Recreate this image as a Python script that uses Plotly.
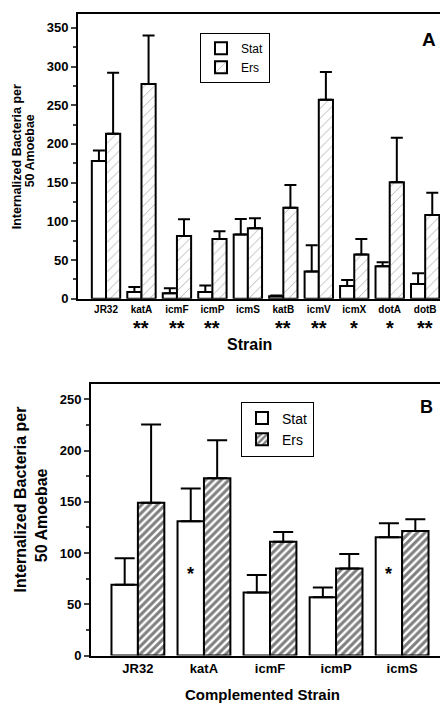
import plotly.graph_objects as go

# ---- Panel A data ----
strains_a = ["JR32", "katA", "icmF", "icmP", "icmS", "katB", "icmV", "icmX", "dotA", "dotB"]
stat_a = [178, 8.5, 7, 8.5, 83, 3, 35, 16.5, 42, 19]
stat_a_err = [13.5, 6.5, 6.5, 8.5, 20, 1, 34, 7.5, 5, 14]
ers_a = [213, 277.5, 81, 77, 91, 117.5, 257, 57, 150.5, 108]
ers_a_err = [79, 62.5, 21.5, 10, 13, 29.5, 36, 20, 57.5, 29]
sig_a = ["", "**", "**", "**", "", "**", "**", "*", "*", "**"]
yticks_a = [0, 50, 100, 150, 200, 250, 300, 350]

# ---- Panel B data ----
strains_b = ["JR32", "katA", "icmF", "icmP", "icmS"]
stat_b = [69, 131, 61.5, 57, 115.5]
stat_b_err = [26, 32, 17, 9.5, 13.5]
ers_b = [149, 173, 111, 85, 121.5]
ers_b_err = [76.5, 37, 9.5, 14, 11.5]
sig_b = ["", "*", "", "", "*"]
sig_b_level = 80
yticks_b = [0, 50, 100, 150, 200, 250]

FONT = "Liberation Sans, Arial, sans-serif"
W, H = 448, 709

fig = go.Figure()

fig.add_trace(go.Bar(
    x=strains_a, y=stat_a, name="Stat", xaxis="x", yaxis="y",
    marker=dict(color="white", line=dict(color="black", width=2)),
    error_y=dict(type="data", symmetric=False, array=stat_a_err, arrayminus=[0]*len(stat_a),
                 color="black", thickness=2, width=6),
    legend="legend",
))
fig.add_trace(go.Bar(
    x=strains_a, y=ers_a, name="Ers", xaxis="x", yaxis="y",
    marker=dict(color="white", line=dict(color="black", width=2),
                pattern=dict(shape="/", fgcolor="#555555", bgcolor="white", size=7, solidity=0.12)),
    error_y=dict(type="data", symmetric=False, array=ers_a_err, arrayminus=[0]*len(ers_a),
                 color="black", thickness=2, width=6),
    legend="legend",
))
fig.add_trace(go.Bar(
    x=strains_b, y=stat_b, name="Stat", xaxis="x2", yaxis="y2",
    marker=dict(color="white", line=dict(color="black", width=2)),
    error_y=dict(type="data", symmetric=False, array=stat_b_err, arrayminus=[0]*len(stat_b),
                 color="black", thickness=2, width=10),
    legend="legend2",
))
fig.add_trace(go.Bar(
    x=strains_b, y=ers_b, name="Ers", xaxis="x2", yaxis="y2",
    marker=dict(color="white", line=dict(color="black", width=2),
                pattern=dict(shape="/", fgcolor="black", bgcolor="white", size=5.5, solidity=0.55)),
    error_y=dict(type="data", symmetric=False, array=ers_b_err, arrayminus=[0]*len(ers_b),
                 color="black", thickness=2, width=10),
    legend="legend2",
))

def px_x(p):
    return p / W

def px_y(p):
    return 1 - p / H

axis_common = dict(showline=True, linecolor="black", linewidth=2, mirror=True,
                   showgrid=False, zeroline=False)

fig.update_layout(
    width=W, height=H, margin=dict(l=0, r=0, t=0, b=0),
    paper_bgcolor="white", plot_bgcolor="white",
    barmode="group", bargap=0.2, bargroupgap=0,
    font=dict(family=FONT, color="black"),
    xaxis=dict(domain=[px_x(70), px_x(442)], anchor="y", range=[-0.79, 9.7],
               ticks="", tickfont=dict(size=10, family=FONT, weight="bold"), **axis_common),
    yaxis=dict(domain=[px_y(294), px_y(6)], anchor="x", range=[0, 368],
               tickvals=yticks_a, ticks="outside", ticklen=5, tickwidth=1.5,
               minor=dict(dtick=25, ticks="outside", ticklen=3, tickwidth=1.5),
               tickfont=dict(size=13, family=FONT, weight="bold"), **axis_common),
    xaxis2=dict(domain=[px_x(83), px_x(443)], anchor="y2", range=[-0.71, 4.74],
                ticks="", tickfont=dict(size=13, family=FONT, weight="bold"), **axis_common),
    yaxis2=dict(domain=[px_y(655), px_y(380.7)], anchor="x2", range=[0, 264.5],
                tickvals=yticks_b, ticks="outside", ticklen=5, tickwidth=1.5,
                minor=dict(dtick=25, ticks="outside", ticklen=3, tickwidth=1.5),
                tickfont=dict(size=13, family=FONT, weight="bold"), **axis_common),
    legend=dict(x=px_x(192), y=px_y(25), xanchor="left", yanchor="top",
                bordercolor="black", borderwidth=1, bgcolor="white",
                font=dict(size=12, family=FONT), tracegroupgap=0,
                itemwidth=30),
    legend2=dict(x=px_x(233), y=px_y(398), xanchor="left", yanchor="top",
                 bordercolor="black", borderwidth=1, bgcolor="white",
                 font=dict(size=14, family=FONT), tracegroupgap=0,
                 itemwidth=30),
)

def note(text, x, y, size, angle=0):
    return dict(text=text, x=px_x(x), y=px_y(y), xref="paper", yref="paper",
                xanchor="center", yanchor="middle", textangle=angle,
                showarrow=False, font=dict(size=size, family=FONT))

ann = []
ann.append(note("<b>A</b>", 421, 32, 19))
ann.append(note("<b>B</b>", 418, 404, 18))
ann.append(note("<b>Strain</b>", 241, 340, 16))
ann.append(note("<b>Complemented Strain</b>", 254, 694, 15))
ann.append(note("<b>Internalized Bacteria per</b>", 9, 151, 12.5, -90))
ann.append(note("<b>50 Amoebae</b>", 22, 145, 12.5, -90))
ann.append(note("<b>Internalized Bacteria per</b>", 12, 497, 16, -90))
ann.append(note("<b>50 Amoebae</b>", 33, 513, 16, -90))
# significance marks A
for s, m in zip(strains_a, sig_a):
    if m:
        ann.append(dict(text="<b>" + m + "</b>", x=s, xref="x", y=px_y(324), yref="paper",
                        xanchor="center", yanchor="middle",
                        showarrow=False, font=dict(size=20, family=FONT)))
# significance marks B (inside Stat bars)
for i, (s, m) in enumerate(zip(strains_b, sig_b)):
    if m:
        ann.append(dict(text="<b>" + m + "</b>", x=i - 0.2, xref="x2", y=sig_b_level, yref="y2",
                        xanchor="center", yanchor="middle",
                        showarrow=False, font=dict(size=18, family=FONT)))
fig.update_layout(annotations=ann)

fig.write_html("out.html")
